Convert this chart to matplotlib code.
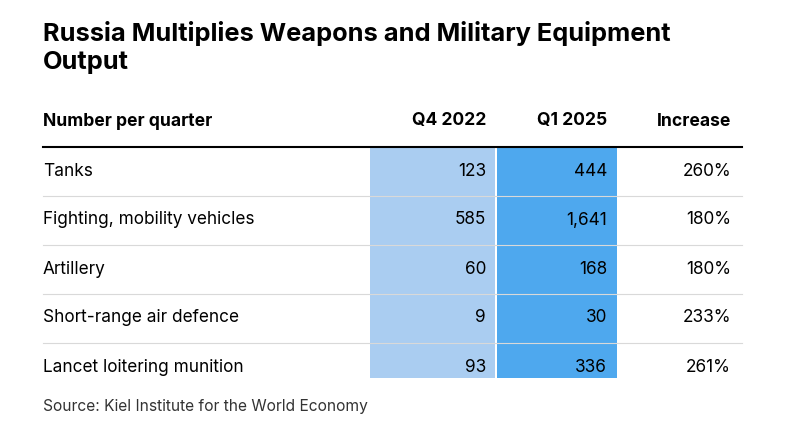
import matplotlib.pyplot as plt
from matplotlib.patches import Rectangle

categories = ["Tanks", "Fighting, mobility vehicles", "Artillery",
              "Short-range air defence", "Lancet loitering munition"]
q4_2022 = [123, 585, 60, 9, 93]
q1_2025 = [444, 1641, 168, 30, 336]
increase = ["260%", "180%", "180%", "233%", "261%"]
headers = ["Number per quarter", "Q4 2022", "Q1 2025", "Increase"]

plt.rcParams['font.family'] = ['Inter', 'DejaVu Sans']

fig = plt.figure(figsize=(8, 4.34), dpi=100)
ax = fig.add_axes([0, 0, 1, 1])
ax.set_xlim(0, 800)
ax.set_ylim(434, 0)
ax.axis("off")

ax.text(43, 33, "Russia Multiplies Weapons and Military Equipment", fontsize=18.3,
        fontweight="bold", va="center")
ax.text(43, 63, "Output", fontsize=18.3, fontweight="bold", va="center")

col_x = [43, 486, 607, 731]
for i, h in enumerate(headers):
    ax.text(col_x[i], 121, h, fontsize=12.6, fontweight="bold", va="center",
            ha="left" if i == 0 else "right")

row_h = 49
top = 147
fs = 12.4
# shaded columns
ax.add_patch(Rectangle((370, top), 125, row_h * len(categories) - 14, color="#aacdf1", lw=0))
ax.add_patch(Rectangle((497, top), 120, row_h * len(categories) - 14, color="#4ea8ee", lw=0))

ax.plot([43, 742], [top, top], color="black", lw=1.5)
for i, name in enumerate(categories):
    y = top + 24 + i * row_h
    ax.text(col_x[0], y, name, fontsize=fs, va="center")
    ax.text(col_x[1], y, f"{q4_2022[i]:,}", fontsize=fs, va="center", ha="right")
    ax.text(col_x[2], y, f"{q1_2025[i]:,}", fontsize=fs, va="center", ha="right")
    ax.text(col_x[3], y, increase[i], fontsize=fs, va="center", ha="right")
    if i < len(categories) - 1:
        ax.plot([43, 742], [y + 25, y + 25], color="#d9d9d9", lw=0.8)

ax.text(43, 407, "Source: Kiel Institute for the World Economy", fontsize=11.2,
        color="#333333", va="center")

fig.savefig("out.png", dpi=100)
